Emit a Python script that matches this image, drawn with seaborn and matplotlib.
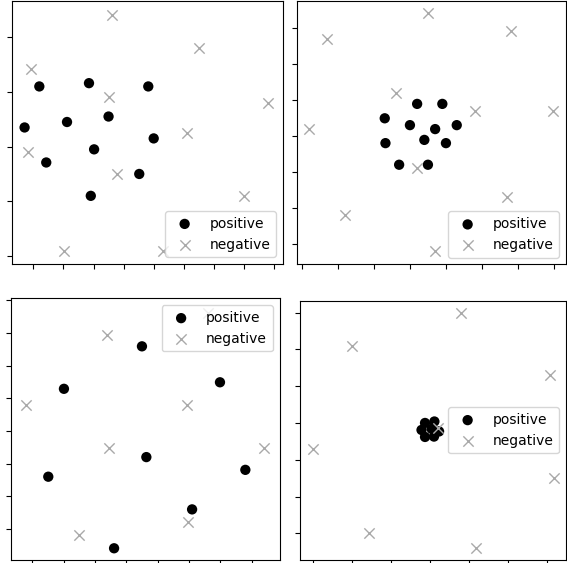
import matplotlib
matplotlib.use("Agg")
import matplotlib.pyplot as plt
import seaborn as sns
import numpy as np

# ---- Panel A (top-left) ----
a_pos_x = [0.20, 1.85, 3.82, -0.29, 1.12, 2.50, 4.00, 2.02, 0.43, 3.52, 1.91]
a_pos_y = [3.10, 3.16, 3.10, 2.35, 2.45, 2.55, 2.15, 1.95, 1.71, 1.50, 1.10]
a_neg_x = [2.61, 5.50, -0.09, 2.50, 7.81, 5.12, -0.18, 2.79, 7.01, 1.02, 4.30]
a_neg_y = [4.41, 3.81, 3.41, 2.91, 2.80, 2.25, 1.90, 1.50, 1.10, 0.10, 0.10]

# ---- Panel B (top-right) ----
b_pos_x = [3.19, 3.89, 2.29, 2.99, 3.69, 4.29, 2.31, 3.39, 3.99, 2.69, 3.49]
b_pos_y = [3.90, 3.90, 3.50, 3.31, 3.20, 3.31, 2.81, 2.90, 2.81, 2.21, 2.21]
b_neg_x = [3.49, 5.80, 0.69, 2.60, 4.79, 6.97, 0.19, 3.19, 5.68, 1.19, 3.69]
b_neg_y = [6.42, 5.92, 5.70, 4.20, 3.71, 3.71, 3.20, 2.11, 1.31, 0.81, -0.19]

# ---- Panel C (bottom-left) ----
c_pos_x = [3.50, 1.01, 5.99, 3.64, 0.51, 6.80, 5.10, 2.61]
c_pos_y = [5.59, 4.29, 4.49, 2.20, 1.60, 1.81, 0.60, -0.59]
c_neg_x = [5.62, 2.39, -0.19, 4.94, 2.44, 7.39, 4.96, 1.50]
c_neg_y = [6.60, 5.93, 3.80, 3.80, 2.49, 2.49, 0.20, -0.18]

# ---- Panel D (bottom-right) ----
d_pos_x = [2.88, 3.12, 2.79, 3.05, 2.88, 3.11, 3.24]
d_pos_y = [3.00, 3.04, 2.81, 2.84, 2.62, 2.63, 2.77]
d_neg_x = [3.80, 1.00, 6.09, 0.00, 6.20, 1.45, 4.19, 3.21]
d_neg_y = [6.00, 5.10, 4.31, 2.29, 1.50, 0.00, -0.41, 2.86]

labels = ["positive", "negative"]

W, H = 567, 563
fig = plt.figure(figsize=(W / 100, H / 100), dpi=100)

def px_axes(left, top, right, bottom):
    return fig.add_axes([left / W, 1 - bottom / H, (right - left) / W, (bottom - top) / H])

panels = [
    dict(box=(12.3, 1, 283, 264), pos=(a_pos_x, a_pos_y), neg=(a_neg_x, a_neg_y),
         xlim=(-0.698, 8.296), ylim=(-0.146, 4.662), nx=9, ny=5, loc="lower right"),
    dict(box=(296.5, 1, 566, 264.5), pos=(b_pos_x, b_pos_y), neg=(b_neg_x, b_neg_y),
         xlim=(-0.161, 7.325), ylim=(-0.561, 6.758), nx=8, ny=7, loc="lower right"),
    dict(box=(11, 298.3, 279.5, 560), pos=(c_pos_x, c_pos_y), neg=(c_neg_x, c_neg_y),
         xlim=(-0.68, 7.89), ylim=(-0.949, 7.06), nx=8, ny=8, loc="upper right"),
    dict(box=(300, 300.5, 566, 560), pos=(d_pos_x, d_pos_y), neg=(d_neg_x, d_neg_y),
         xlim=(-0.326, 6.495), ylim=(-0.726, 6.33), nx=7, ny=7, loc="center right"),
]

for p in panels:
    ax = px_axes(*p["box"])
    sns.scatterplot(x=p["pos"][0], y=p["pos"][1], color="black", marker="o", s=55,
                    edgecolor="none", label=labels[0], ax=ax)
    sns.scatterplot(x=p["neg"][0], y=p["neg"][1], color="darkgray", marker="x", s=55,
                    linewidth=1.0, label=labels[1], ax=ax)
    ax.set_xlim(*p["xlim"])
    ax.set_ylim(*p["ylim"])
    ax.set_xticks(np.arange(p["nx"]))
    ax.set_yticks(np.arange(p["ny"]))
    ax.set_xticklabels([])
    ax.set_yticklabels([])
    ax.set_xlabel("")
    ax.set_ylabel("")
    ax.legend(loc=p["loc"], fontsize=10)

fig.savefig("out.png", dpi=100)
